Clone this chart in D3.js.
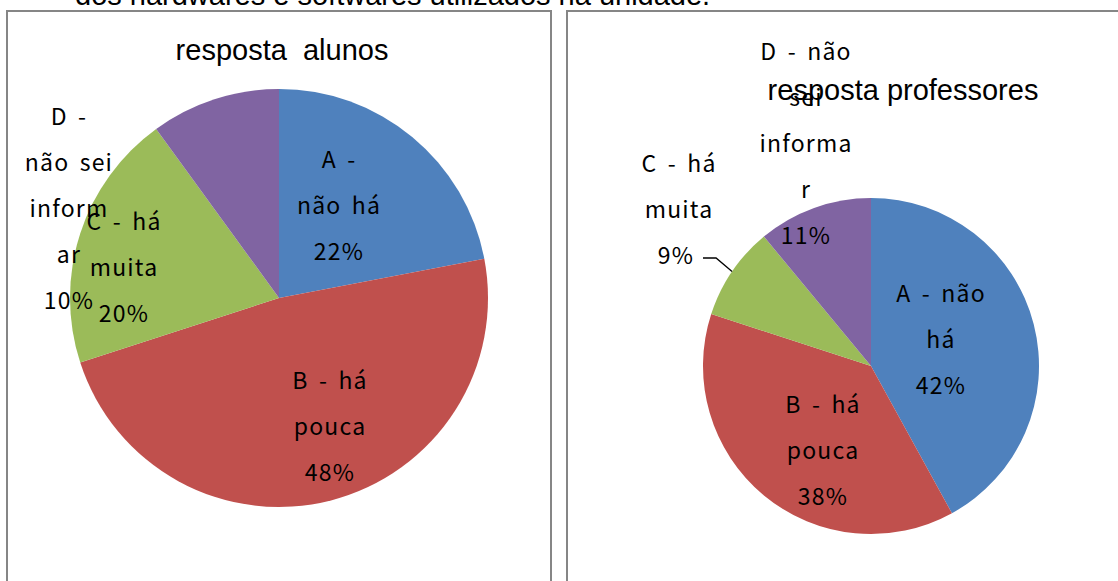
<!DOCTYPE html>
<html>
<head>
<meta charset="utf-8">
<script src="https://cdn.jsdelivr.net/npm/d3@7"></script>
<style>
  body { margin:0; background:#fff; }
  text { white-space: pre; }
</style>
</head>
<body>
<div id="chart"></div>
<script>
// data
var categories = ["A", "B", "C", "D"]
var alunosValues = [22, 48, 20, 10]
var professoresValues = [42, 38, 9, 11]
var alunosLabels = [["A -", "não há"], ["B - há", "pouca"], ["C - há", "muita"], ["D -", "não sei", "inform", "ar"]]
var professoresLabels = [["A - não", "há"], ["B - há", "pouca"], ["C - há", "muita"], ["D - não", "sei", "informa", "r"]]
var colors = ["#4F81BD", "#C0504D", "#9BBB59", "#8064A2"]

var W = 1118, H = 581

var svg = d3.select("#chart").append("svg")
  .attr("width", W).attr("height", H)

// text above the charts (cut at the top)
svg.append("text")
  .attr("x", 75).attr("y", 5)
  .style("font-family", "Liberation Sans, Arial")
  .style("font-size", "29px")
  .text("dos hardwares e softwares utilizados na unidade.")

// chart frames
svg.append("rect").attr("x", 7).attr("y", 11).attr("width", 544).attr("height", 600)
  .attr("fill", "none").attr("stroke", "#868686").attr("stroke-width", 2)
svg.append("rect").attr("x", 567).attr("y", 11).attr("width", 600).attr("height", 600)
  .attr("fill", "none").attr("stroke", "#868686").attr("stroke-width", 2)

var charts = [
  {title: "resposta  alunos", values: alunosValues, labels: alunosLabels,
   cx: 279, cy: 298, r: 209, tx: 282, ty: 50,
   // label offsets from pie center (first line)
   lab: [[60, -138], [51, 83], [-155, -76], [-210, -181]], leader: []},
  {title: "resposta professores", values: professoresValues, labels: professoresLabels,
   cx: 871, cy: 366, r: 168, tx: 903, ty: 90,
   lab: [[70, -72], [-48, 39], [-192, -202], [-65, -314]], leader: [2]}
]

var pie = d3.pie().sort(null).value(function(d){ return d })
var lineStep = 46

charts.forEach(function(c){
  var g = svg.append("g").attr("transform", "translate(" + c.cx + "," + c.cy + ")")
  var arc = d3.arc().innerRadius(0).outerRadius(c.r)
  var arcs = pie(c.values)

  g.selectAll("path")
    .data(arcs)
    .enter()
    .append("path")
    .attr("d", arc)
    .attr("fill", function(d, i){ return colors[i] })

  // leader lines
  c.leader.forEach(function(i){
    var a = arcs[i]
    var mid = (a.startAngle + a.endAngle) / 2
    var ex = c.r * Math.sin(mid), ey = -c.r * Math.cos(mid)
    var lx = c.lab[i][0], ly = c.lab[i][1] + lineStep * c.labels[i].length
    g.append("path")
      .attr("d", "M" + (lx + 24) + "," + (ly + 2) + "L" + (ex - 16) + "," + (ly + 2) + "L" + ex + "," + ey)
      .attr("fill", "none").attr("stroke", "#000").attr("stroke-width", 1.3)
  })

  // data labels
  arcs.forEach(function(a, i){
    var lines = c.labels[i].concat([Math.round(a.data) + "%"])
    var t = g.append("text")
      .attr("text-anchor", "middle")
      .style("font-family", "Noto Sans CJK KR, Noto Sans")
      .style("font-size", "23px")
      .style("letter-spacing", "1.2px")
      .style("word-spacing", "4px")
      .attr("fill", "#000")
    lines.forEach(function(s, k){
      var dx = 0
      if (c.leader.indexOf(i) >= 0 && k == lines.length - 1) dx = -3
      t.append("tspan")
        .attr("x", c.lab[i][0] + dx)
        .attr("y", c.lab[i][1] + k * lineStep)
        .attr("dy", "0.35em")
        .text(s)
    })
  })

  svg.append("text")
    .attr("x", c.tx).attr("y", c.ty)
    .attr("text-anchor", "middle")
    .attr("dy", "0.35em")
    .style("font-family", "Liberation Sans, Arial")
    .style("font-size", "29px")
    .text(c.title)
})
</script>
</body>
</html>
